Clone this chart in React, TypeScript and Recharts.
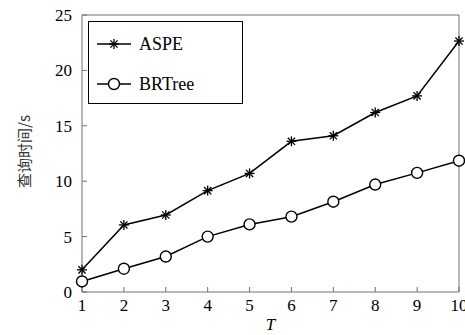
import React from "react";
import {
  LineChart,
  Line,
  XAxis,
  YAxis,
  Legend,
  Label,
} from "recharts";

const tValues = [1, 2, 3, 4, 5, 6, 7, 8, 9, 10];
const aspeTimes = [2.0, 6.05, 6.95, 9.15, 10.7, 13.6, 14.1, 16.2, 17.7, 22.65];
const brtreeTimes = [0.95, 2.1, 3.2, 5.0, 6.1, 6.8, 8.15, 9.7, 10.75, 11.85];
const yTicks = [0, 5, 10, 15, 20, 25];

const data = tValues.map((t, i) => ({
  t,
  ASPE: aspeTimes[i],
  BRTree: brtreeTimes[i],
}));

const serif = "Liberation Serif";
const axisColor = "#707070";

function StarDot(props: any) {
  const { cx, cy } = props;
  if (cx == null || cy == null) return <g />;
  const r = 5;
  const d = r * 0.72;
  return (
    <g stroke="#000" strokeWidth={1.3}>
      <line x1={cx - r} y1={cy} x2={cx + r} y2={cy} />
      <line x1={cx} y1={cy - r} x2={cx} y2={cy + r} />
      <line x1={cx - d} y1={cy - d} x2={cx + d} y2={cy + d} />
      <line x1={cx - d} y1={cy + d} x2={cx + d} y2={cy - d} />
    </g>
  );
}

function CircleDot(props: any) {
  const { cx, cy } = props;
  if (cx == null || cy == null) return <g />;
  return <circle cx={cx} cy={cy} r={5.5} fill="#fff" stroke="#000" strokeWidth={1.4} />;
}

function LegendBox({ payload }: any) {
  const items = payload || [];
  return (
    <div
      style={{
        width: 155,
        height: 83,
        border: "1px solid #000",
        background: "#fff",
        boxSizing: "border-box",
        position: "relative",
      }}
    >
      {items.map((item: any, i: number) => (
        <div
          key={item.value}
          style={{
            position: "absolute",
            left: 0,
            top: 10 + i * 40,
            height: 24,
            display: "flex",
            alignItems: "center",
          }}
        >
          <svg width={50} height={24}>
            <line x1={8} y1={12} x2={42} y2={12} stroke="#000" strokeWidth={1.5} />
            {item.value === "ASPE" ? (
              <StarDot cx={25} cy={12} />
            ) : (
              <CircleDot cx={25} cy={12} />
            )}
          </svg>
          <span style={{ fontFamily: serif, fontSize: 18, color: "#000" }}>
            {item.value}
          </span>
        </div>
      ))}
    </div>
  );
}

function YTitle(props: any) {
  const { viewBox } = props;
  const x = viewBox.x + 1;
  const y = viewBox.y + viewBox.height / 2 - 2;
  return (
    <text
      x={x}
      y={y}
      transform={`rotate(-90, ${x}, ${y})`}
      textAnchor="middle"
      dominantBaseline="central"
      fontFamily="Noto Sans CJK SC"
      fontSize={15}
      fill="#333"
    >
      查询时间/s
    </text>
  );
}

export default function App() {
  return (
    <div style={{ position: "absolute", left: 0, top: 0, background: "#fff", fontFamily: serif }}>
      <LineChart
        width={465}
        height={335}
        data={data}
        margin={{ top: 14, right: 5, bottom: 13, left: 22 }}
      >
        <XAxis
          xAxisId="bottom"
          dataKey="t"
          type="number"
          domain={[1, 10]}
          ticks={tValues}
          height={30}
          tickSize={-5}
          tickMargin={12}
          stroke={axisColor}
          tick={{ fill: "#000", fontFamily: serif, fontSize: 17 }}
          interval={0}
        >
          <Label
            value="T"
            position="bottom"
            offset={-4}
            fontFamily={serif}
            fontStyle="italic"
            fontSize={17}
            fill="#000"
          />
        </XAxis>
        <XAxis
          xAxisId="top"
          orientation="top"
          dataKey="t"
          type="number"
          domain={[1, 10]}
          ticks={tValues}
          height={1}
          tickSize={-5}
          tick={false}
          stroke={axisColor}
          interval={0}
        />
        <YAxis
          yAxisId="left"
          domain={[0, 25]}
          ticks={yTicks}
          width={60}
          tickSize={-5}
          tickMargin={15}
          stroke={axisColor}
          tick={{ fill: "#000", fontFamily: serif, fontSize: 17 }}
          interval={0}
        >
          <Label content={<YTitle />} />
        </YAxis>
        <YAxis
          yAxisId="right"
          orientation="right"
          domain={[0, 25]}
          ticks={yTicks}
          width={1}
          tickSize={-5}
          tick={false}
          stroke={axisColor}
          interval={0}
        />
        <Legend
          layout="vertical"
          align="center"
          verticalAlign="middle"
          wrapperStyle={{ left: 88, top: 21, width: 155 }}
          content={<LegendBox />}
        />
        <Line
          xAxisId="bottom"
          yAxisId="left"
          dataKey="ASPE"
          stroke="#000"
          strokeWidth={1.5}
          dot={(p: any) => <StarDot {...p} key={`a${p.index}`} />}
          isAnimationActive={false}
        />
        <Line
          xAxisId="bottom"
          yAxisId="left"
          dataKey="BRTree"
          stroke="#000"
          strokeWidth={1.5}
          dot={(p: any) => <CircleDot {...p} key={`b${p.index}`} />}
          isAnimationActive={false}
        />
      </LineChart>
    </div>
  );
}
